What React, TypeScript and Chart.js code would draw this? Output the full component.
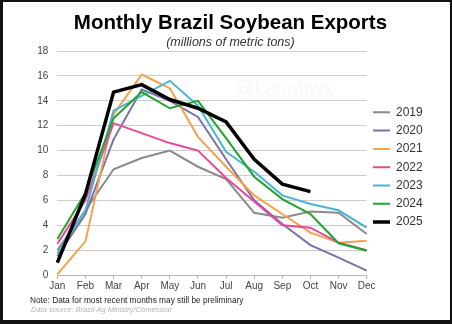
import { useEffect, useRef } from 'react';
import { Chart, registerables } from 'chart.js';

Chart.register(...registerables);

const months = ['Jan', 'Feb', 'Mar', 'Apr', 'May', 'Jun', 'Jul', 'Aug', 'Sep', 'Oct', 'Nov', 'Dec'];

const y2019 = [2.0, 5.2, 8.5, 9.4, 10.0, 8.7, 7.7, 5.0, 4.6, 5.1, 5.0, 3.3];
const y2020 = [1.5, 4.9, 10.9, 14.9, 14.0, 12.7, 9.3, 6.0, 4.1, 2.4, 1.4, 0.35];
const y2021 = [0.05, 2.7, 12.9, 16.1, 15.0, 11.1, 8.7, 6.4, 4.9, 3.4, 2.6, 2.75];
const y2022 = [2.5, 6.0, 12.2, 11.4, 10.6, 10.0, 7.8, 5.9, 4.0, 3.8, 2.6, 2.0];
const y2023 = [1.7, 5.2, 13.2, 14.4, 15.6, 13.6, 9.9, 8.3, 6.4, 5.7, 5.2, 3.8];
const y2024 = [2.9, 6.6, 12.6, 14.7, 13.4, 14.0, 11.0, 7.9, 6.1, 4.9, 2.55, 1.95];
const y2025 = [1.0, 6.5, 14.7, 15.3, 14.1, 13.4, 12.3, 9.3, 7.3, 6.7];

const seriesLabels = ['2019', '2020', '2021', '2022', '2023', '2024', '2025'];
const seriesValues = [y2019, y2020, y2021, y2022, y2023, y2024, y2025];
const seriesColors = ['#8a8a8a', '#7d70a6', '#f4a24e', '#e8489a', '#4db4d0', '#22a32e', '#000000'];
const seriesWidths = [2, 2, 2, 2, 2, 2, 3.5];

const titleText = 'Monthly Brazil Soybean Exports';
const subtitleText = '(millions of metric tons)';
const noteText = 'Note: Data for most recent months may still be preliminary';
const sourceText = 'Data source: Brazil Ag Ministry/Comexstat';
const watermarkText = '@kannbwx';

const FONT = "'Liberation Sans', Arial, sans-serif";

const framePlugin = {
  id: 'frame',
  beforeDraw(chart: any) {
    const { ctx, width, height } = chart;
    ctx.save();
    ctx.fillStyle = '#ffffff';
    ctx.fillRect(0, 0, width, height);
    ctx.restore();
  },
  beforeDatasetsDraw(chart: any) {
    const { ctx } = chart;
    ctx.save();
    ctx.font = `20px ${FONT}`;
    ctx.fillStyle = 'rgba(0,0,0,0.035)';
    ctx.textAlign = 'center';
    ctx.textBaseline = 'middle';
    ctx.fillText(watermarkText, 284, 89);
    ctx.restore();
  },
  afterDraw(chart: any) {
    const { ctx, width, height } = chart;
    ctx.save();
    ctx.textAlign = 'left';
    ctx.textBaseline = 'middle';
    ctx.font = `8.3px ${FONT}`;
    ctx.fillStyle = '#222222';
    ctx.fillText(noteText, 30, 301);
    ctx.font = `italic 7.5px ${FONT}`;
    ctx.fillStyle = '#b4b4b4';
    ctx.fillText(sourceText, 31, 310);
    ctx.fillStyle = '#111111';
    ctx.fillRect(0, 0, 3, height);
    ctx.fillRect(0, 0, width, 2);
    ctx.fillRect(0, height - 4, width, 4);
    ctx.fillRect(width - 2, 0, 2, height);
    ctx.restore();
  },
};

export default function App() {
  const ref = useRef<HTMLCanvasElement>(null);

  useEffect(() => {
    document.body.style.margin = '0';
    const canvas = ref.current;
    if (!canvas) return;
    const chart = new Chart(canvas, {
      type: 'line',
      data: {
        labels: months,
        datasets: seriesLabels.map((label, i) => ({
          label,
          data: seriesValues[i],
          borderColor: seriesColors[i],
          backgroundColor: seriesColors[i],
          borderWidth: seriesWidths[i],
          pointRadius: 0,
          tension: 0,
          fill: false,
          order: seriesLabels.length - 1 - i,
        })),
      },
      options: {
        animation: false,
        responsive: true,
        maintainAspectRatio: false,
        events: [],
        layout: { padding: { left: 28.2, right: 19.3, top: 4, bottom: 31 } },
        plugins: {
          tooltip: { enabled: false },
          title: {
            display: true,
            text: titleText,
            color: '#000000',
            font: { family: FONT, size: 20.5, weight: 'bold' },
            padding: { top: 6.7, bottom: 0 },
          },
          subtitle: {
            display: true,
            text: subtitleText,
            color: '#333333',
            font: { family: FONT, size: 12.5, style: 'italic' },
            padding: { top: 0, bottom: 0.7 },
          },
          legend: {
            position: 'right',
            fullSize: false,
            title: { display: true, text: '', padding: 0, font: { size: 7, lineHeight: 1.2 } },
            labels: {
              usePointStyle: true,
              pointStyle: 'line',
              pointStyleWidth: 17,
              padding: 6.3,
              color: '#333333',
              font: { family: FONT, size: 12 },
              sort: (a: any, b: any) => a.datasetIndex - b.datasetIndex,
            },
          },
        },
        scales: {
          x: {
            type: 'category',
            offset: false,
            grid: {
              display: true,
              drawOnChartArea: false,
              drawTicks: true,
              tickLength: 4,
              color: '#b8b8b8',
            },
            border: { display: true, color: '#b8b8b8' },
            ticks: {
              color: '#444444',
              font: { family: FONT, size: 10 },
              padding: 1,
              maxRotation: 0,
              autoSkip: false,
            },
          },
          y: {
            min: 0,
            max: 18,
            grid: { color: '#cccccc', drawTicks: false },
            border: { display: false },
            ticks: {
              stepSize: 2,
              color: '#444444',
              font: { family: FONT, size: 10 },
              padding: 9,
            },
          },
        },
      },
      plugins: [framePlugin],
    });
    return () => chart.destroy();
  }, []);

  return (
    <div style={{ position: 'absolute', left: 0, top: 0, width: 452, height: 324 }}>
      <canvas ref={ref} />
    </div>
  );
}
